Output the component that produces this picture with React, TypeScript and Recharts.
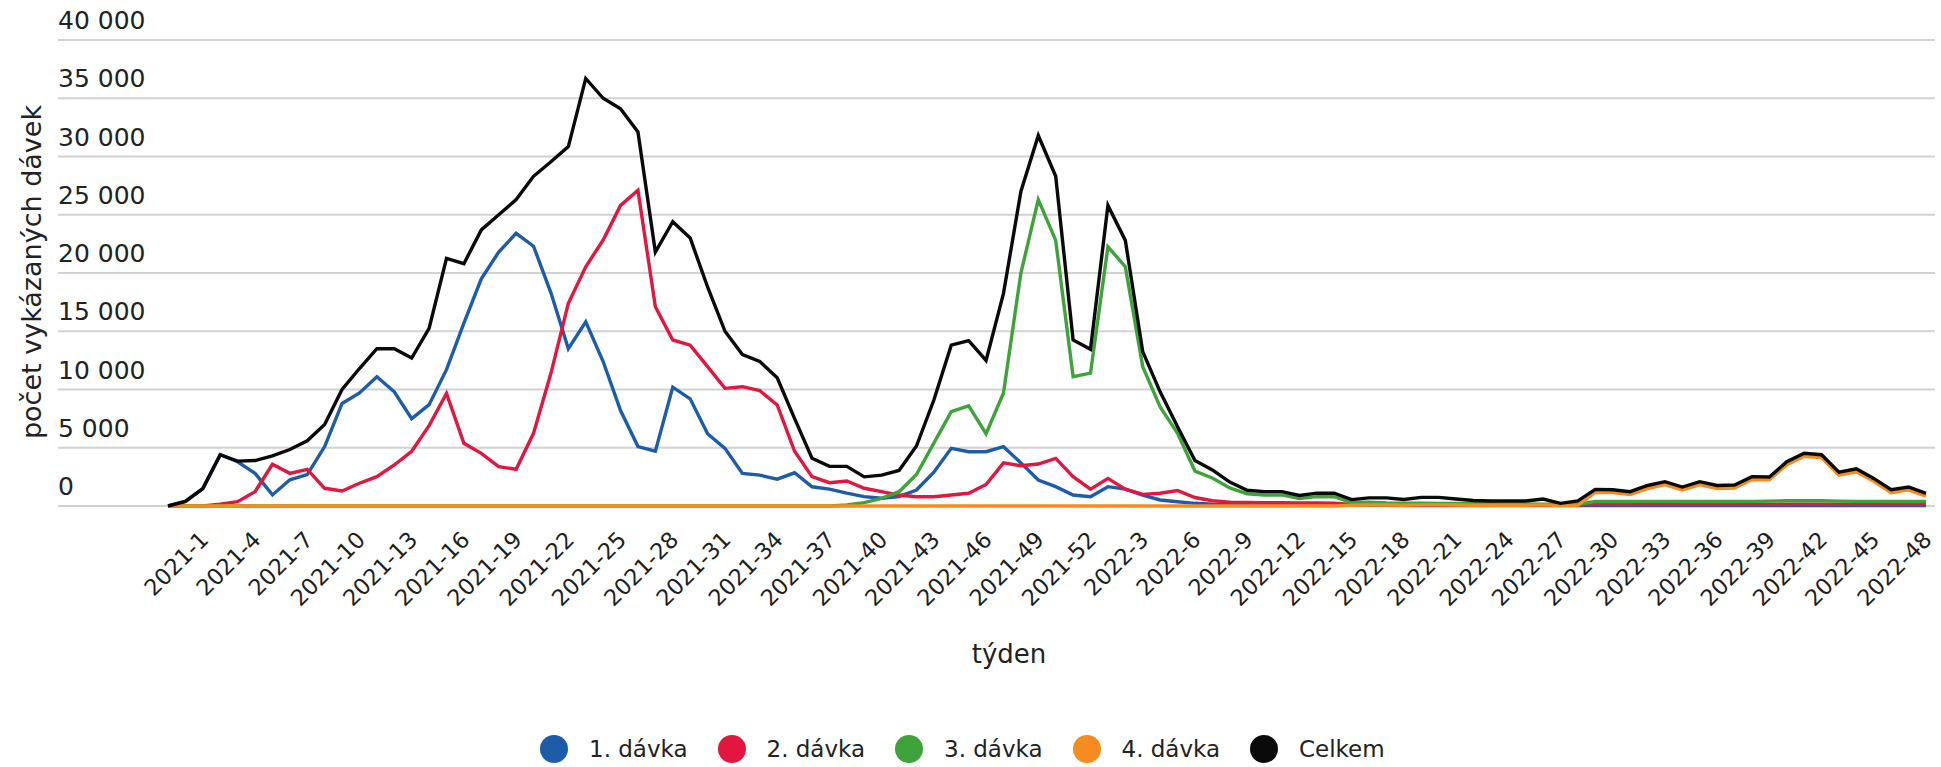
import React from 'react';
import { LineChart, Line, XAxis, YAxis, CartesianGrid, Legend, Label } from 'recharts';

const FONT = '"DejaVu Sans", sans-serif';

const weeks: string[] = [
  '2021-1', '2021-2', '2021-3', '2021-4', '2021-5', '2021-6', '2021-7', '2021-8', '2021-9', '2021-10',
  '2021-11', '2021-12', '2021-13', '2021-14', '2021-15', '2021-16', '2021-17', '2021-18', '2021-19', '2021-20',
  '2021-21', '2021-22', '2021-23', '2021-24', '2021-25', '2021-26', '2021-27', '2021-28', '2021-29', '2021-30',
  '2021-31', '2021-32', '2021-33', '2021-34', '2021-35', '2021-36', '2021-37', '2021-38', '2021-39', '2021-40',
  '2021-41', '2021-42', '2021-43', '2021-44', '2021-45', '2021-46', '2021-47', '2021-48', '2021-49', '2021-50',
  '2021-51', '2021-52', '2022-1', '2022-2', '2022-3', '2022-4', '2022-5', '2022-6', '2022-7', '2022-8',
  '2022-9', '2022-10', '2022-11', '2022-12', '2022-13', '2022-14', '2022-15', '2022-16', '2022-17', '2022-18',
  '2022-19', '2022-20', '2022-21', '2022-22', '2022-23', '2022-24', '2022-25', '2022-26', '2022-27', '2022-28',
  '2022-29', '2022-30', '2022-31', '2022-32', '2022-33', '2022-34', '2022-35', '2022-36', '2022-37', '2022-38',
  '2022-39', '2022-40', '2022-41', '2022-42', '2022-43', '2022-44', '2022-45', '2022-46', '2022-47', '2022-48',
  '2022-49', '2022-50',
];

const dose1: number[] = [
  0, 400, 1500, 4400, 3800, 2800, 950, 2250, 2700, 5100,
  8800, 9700, 11100, 9800, 7500, 8700, 11700, 15700, 19500, 21800,
  23400, 22300, 18300, 13500, 15800, 12400, 8200, 5100, 4700, 10200,
  9200, 6200, 4950, 2800, 2650, 2300, 2850, 1650, 1450, 1100,
  800, 660, 800, 1370, 2900, 4950, 4660, 4660, 5090, 3700,
  2230, 1660, 940, 800, 1660, 1450, 940, 515, 370, 230,
  150, 120, 100, 90, 80, 70, 60, 60, 50, 50,
  50, 45, 45, 45, 40, 40, 40, 40, 40, 40,
  35, 35, 40, 40, 40, 40, 40, 40, 40, 40,
  40, 40, 40, 40, 40, 40, 35, 35, 35, 35,
  30, 30,
];

const dose2: number[] = [
  0, 0, 0, 150, 370, 1230, 3580, 2800, 3150, 1520,
  1290, 1950, 2520, 3520, 4700, 6900, 9670, 5380, 4520, 3380,
  3150, 6240, 11390, 17400, 20540, 22830, 25800, 27100, 17100, 14250,
  13800, 11960, 10100, 10240, 9900, 8670, 4700, 2520, 2000, 2150,
  1520, 1230, 940, 800, 800, 940, 1090, 1850, 3700, 3450,
  3600, 4090, 2520, 1450, 2370, 1450, 1000, 1090, 1330, 730,
  450, 330, 300, 280, 280, 260, 260, 250, 130, 120,
  110, 110, 110, 100, 100, 100, 100, 100, 100, 100,
  100, 100, 150, 150, 150, 150, 150, 150, 150, 150,
  150, 160, 160, 160, 160, 150, 150, 150, 150, 150,
  150, 150,
];

const dose3: number[] = [
  0, 0, 0, 0, 0, 0, 0, 0, 0, 0,
  0, 0, 0, 0, 0, 0, 0, 0, 0, 0,
  0, 0, 0, 0, 0, 0, 0, 0, 0, 0,
  0, 0, 0, 0, 0, 0, 0, 0, 0, 90,
  290, 660, 1230, 2700, 5400, 8100, 8600, 6200, 9700, 20000,
  26300, 22800, 11100, 11400, 22250, 20540, 11960, 8500, 6240, 3000,
  2400, 1550, 1050, 950, 950, 650, 800, 800, 300, 320,
  260, 240, 230, 220, 210, 200, 190, 180, 170, 160,
  150, 150, 380, 400, 380, 400, 400, 380, 400, 380,
  380, 400, 420, 450, 450, 450, 420, 400, 400, 380,
  380, 380,
];

const dose4: number[] = [
  0, 0, 0, 0, 0, 0, 0, 0, 0, 0,
  0, 0, 0, 0, 0, 0, 0, 0, 0, 0,
  0, 0, 0, 0, 0, 0, 0, 0, 0, 0,
  0, 0, 0, 0, 0, 0, 0, 0, 0, 0,
  0, 0, 0, 0, 0, 0, 0, 0, 0, 0,
  0, 0, 0, 0, 0, 0, 0, 0, 0, 0,
  0, 0, 0, 0, 0, 0, 0, 0, 60, 80,
  80, 60, 100, 100, 80, 60, 60, 60, 60, 100,
  30, 60, 1180, 1150, 980, 1500, 1840, 1380, 1840, 1500,
  1550, 2270, 2240, 3550, 4270, 4150, 2650, 2940, 2120, 1150,
  1380, 840,
];

const total: number[] = [
  0, 400, 1500, 4400, 3850, 3900, 4300, 4850, 5600, 7000,
  10000, 11800, 13500, 13500, 12700, 15250, 21250, 20800, 23700, 25000,
  26300, 28300, 29550, 30850, 36700, 35000, 34100, 32100, 21800, 24400,
  23000, 18800, 15000, 13000, 12400, 11000, 7500, 4100, 3400, 3400,
  2500, 2650, 3050, 5150, 9100, 13800, 14200, 12500, 18250, 27000,
  31800, 28300, 14250, 13450, 25800, 22800, 13250, 9800, 6800, 3900,
  3100, 2050, 1350, 1230, 1230, 900, 1100, 1100, 550, 700,
  700, 560, 740, 740, 600, 470, 430, 430, 430, 600,
  230, 430, 1430, 1400, 1230, 1760, 2090, 1630, 2090, 1760,
  1800, 2520, 2490, 3800, 4520, 4400, 2900, 3190, 2370, 1400,
  1630, 1090,
];

const yTicks: number[] = [0, 5000, 10000, 15000, 20000, 25000, 30000, 35000, 40000];

const seriesKeys = ['d1', 'd2', 'd3', 'd4', 'total'];
const seriesNames = ['1. dávka', '2. dávka', '3. dávka', '4. dávka', 'Celkem'];
const seriesColors = ['#1d5ca8', '#e2163f', '#3fa33c', '#f68b1f', '#0a0a0a'];

const data = weeks.map((w, i) => ({
  week: w,
  d1: dose1[i],
  d2: dose2[i],
  d3: dose3[i],
  d4: dose4[i],
  total: total[i],
}));

const fmt = (v: number) => {
  const s = String(v);
  return s.replace(/\B(?=(\d{3})+(?!\d))/g, ' ');
};

const YTick = (props: any) => {
  const { y, payload } = props;
  return (
    <text x={58} y={y - 11} fontSize={25} fill="#222" fontFamily={FONT} textAnchor="start">
      {fmt(payload.value)}
    </text>
  );
};

const XTick = (props: any) => {
  const { x, payload } = props;
  const ax = x + 42;
  const ay = 541;
  return (
    <text
      x={ax}
      y={ay}
      fontSize={22.5}
      fill="#1e1e1e"
      fontFamily={FONT}
      textAnchor="end"
      transform={`rotate(-45 ${ax} ${ay})`}
    >
      {payload.value}
    </text>
  );
};

const LegendContent = () => (
  <div style={{ display: 'flex', paddingLeft: 540, fontFamily: FONT }}>
    {seriesNames.map((n, i) => (
      <div key={n} style={{ width: 177.5, display: 'flex', alignItems: 'center' }}>
        <svg width={28} height={28} style={{ display: 'block' }}>
          <circle cx={14} cy={14} r={14} fill={seriesColors[i]} />
        </svg>
        <span style={{ marginLeft: 21, fontSize: 23, color: '#222', whiteSpace: 'nowrap' }}>{n}</span>
      </div>
    ))}
  </div>
);

const YTitle = () => (
  <text
    x={41}
    y={272}
    fontSize={27}
    fill="#222"
    fontFamily={FONT}
    textAnchor="middle"
    transform="rotate(-90 41 272)"
  >
    počet vykázaných dávek
  </text>
);

export default function App() {
  return (
    <div style={{ position: 'absolute', left: 0, top: 0, width: 1941, height: 767, background: '#ffffff' }}>
      <LineChart
        width={1941}
        height={767}
        data={data}
        margin={{ top: 40, right: 6, left: 8, bottom: 0 }}
      >
        <CartesianGrid vertical={false} stroke="#d2d2d2" strokeWidth={2} />
        <XAxis
          dataKey="week"
          interval={2}
          axisLine={false}
          tickLine={false}
          height={261}
          padding={{ left: 110, right: 9 }}
          tick={<XTick />}
        >
          <Label
            content={() => (
              <text x={1009} y={663} fontSize={26} fill="#222" fontFamily={FONT} textAnchor="middle">
                týden
              </text>
            )}
          />
        </XAxis>
        <YAxis
          domain={[0, 40000]}
          ticks={yTicks}
          width={50}
          axisLine={false}
          tickLine={false}
          tick={<YTick />}
          label={<YTitle />}
        />
        <Legend
          layout="horizontal"
          verticalAlign="middle"
          align="center"
          wrapperStyle={{ top: 735, left: 0, width: 1941 }}
          content={<LegendContent />}
        />
        {seriesKeys.map((k, i) => (
          <Line
            key={k}
            type="linear"
            dataKey={k}
            name={seriesNames[i]}
            stroke={seriesColors[i]}
            strokeWidth={3.4}
            dot={false}
            activeDot={false}
            isAnimationActive={false}
          />
        ))}
      </LineChart>
    </div>
  );
}
